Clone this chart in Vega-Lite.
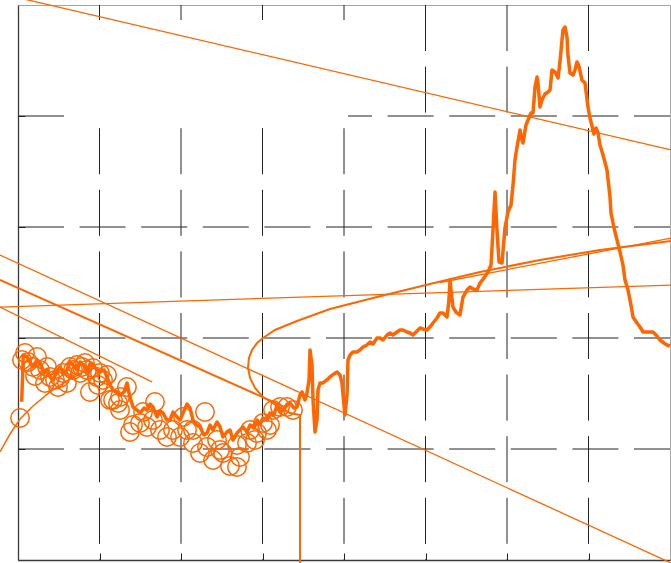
{
  "$schema": "https://vega.github.io/schema/vega-lite/v6.json",
  "width": 652,
  "height": 555,
  "autosize": {"type": "none"},
  "padding": {"left": 18, "top": 5, "right": 1, "bottom": 3},
  "background": "white",
  "config": {
    "view": {"stroke": "#a6a6a6", "strokeWidth": 1},
    "axis": {
      "labels": false,
      "title": null,
      "grid": false,
      "domainColor": "#3a3a3a",
      "domainWidth": 1.3,
      "tickColor": "#222222",
      "tickSize": -7
    }
  },
  "encoding": {
    "x": {"field": "x", "type": "quantitative", "scale": {"domain": [0, 8], "nice": false, "zero": false}, "axis": {"values": [1, 2, 3, 4, 5, 6, 7]}},
    "y": {"field": "y", "type": "quantitative", "scale": {"domain": [0, 5], "nice": false, "zero": false}, "axis": {"values": [1, 2, 3, 4]}}
  },
  "layer": [
    {
      "data": {"values": [
        {"x": 1, "y": 5, "ye": 0}, {"x": 2, "y": 5, "ye": 0}, {"x": 3, "y": 5, "ye": 0}, {"x": 4, "y": 5, "ye": 0},
        {"x": 5, "y": 5, "ye": 0}, {"x": 6, "y": 5, "ye": 0}, {"x": 7, "y": 5, "ye": 0}
      ]},
      "mark": {"type": "rule", "color": "#222222", "strokeWidth": 1, "strokeDash": [46, 15.6]},
      "encoding": {"y2": {"field": "ye"}}
    },
    {
      "data": {"values": [
        {"x": 0, "xe": 8, "y": 1}, {"x": 0, "xe": 8, "y": 2}, {"x": 0, "xe": 8, "y": 3}, {"x": 0, "xe": 8, "y": 4}
      ]},
      "mark": {"type": "rule", "color": "#222222", "strokeWidth": 1, "strokeDash": [46, 15.6]},
      "encoding": {"x2": {"field": "xe"}}
    },
    {
      "data": {"values": [{"x": 0.589, "xe": 4.049, "y": 4.865, "ye": 3.928}]},
      "mark": {"type": "rect", "color": "white", "opacity": 1},
      "encoding": {"x2": {"field": "xe"}, "y2": {"field": "ye"}}
    },
    {
      "data": {"values": [
        {"x": -0.221, "y": 5.104, "xe": 8.012, "ye": 3.694},
        {"x": -0.221, "y": 2.748, "xe": 8.012, "ye": -0.027},
        {"x": -0.221, "y": 2.279, "xe": 1.644, "ye": 1.604},
        {"x": -0.221, "y": 2.279, "xe": 8.012, "ye": 2.477},
        {"x": 5.178, "y": 2.5, "xe": 8.012, "ye": 2.9}
      ]},
      "mark": {"type": "rule", "color": "#ff6600", "strokeWidth": 1.3, "clip": false},
      "encoding": {"x2": {"field": "xe"}, "y2": {"field": "ye"}}
    },
    {
      "data": {"values": [
        {"x": -0.221, "y": 2.523, "xe": 3.276, "ye": 1.378}
      ]},
      "mark": {"type": "rule", "color": "#ff6600", "strokeWidth": 2, "clip": false},
      "encoding": {"x2": {"field": "xe"}, "y2": {"field": "ye"}}
    },
    {
      "data": {"values": [
        {"x": -0.221, "y": 0.973},
        {"x": -0.098, "y": 1.135},
        {"x": 0.025, "y": 1.27},
        {"x": 0.184, "y": 1.387},
        {"x": 0.393, "y": 1.514},
        {"x": 0.577, "y": 1.604},
        {"x": 0.761, "y": 1.676}
      ]},
      "mark": {"type": "line", "color": "#ff6600", "strokeWidth": 1.5, "clip": false}
    },
    {
      "data": {"values": [
        {"i": 0, "x": 3.46, "y": -0.03},
        {"i": 1, "x": 3.46, "y": 1.306},
        {"i": 2, "x": 3.337, "y": 1.324},
        {"i": 3, "x": 3.227, "y": 1.369},
        {"i": 4, "x": 3.129, "y": 1.414},
        {"i": 5, "x": 3.006, "y": 1.468},
        {"i": 6, "x": 2.908, "y": 1.55},
        {"i": 7, "x": 2.847, "y": 1.64},
        {"i": 8, "x": 2.822, "y": 1.73},
        {"i": 9, "x": 2.834, "y": 1.82},
        {"i": 10, "x": 2.871, "y": 1.892},
        {"i": 11, "x": 2.933, "y": 1.955},
        {"i": 12, "x": 3.006, "y": 2.0},
        {"i": 13, "x": 3.153, "y": 2.072},
        {"i": 14, "x": 3.423, "y": 2.153},
        {"i": 15, "x": 3.828, "y": 2.261},
        {"i": 16, "x": 4.405, "y": 2.369},
        {"i": 17, "x": 5.055, "y": 2.486},
        {"i": 18, "x": 5.669, "y": 2.595},
        {"i": 19, "x": 6.405, "y": 2.703},
        {"i": 20, "x": 7.141, "y": 2.793},
        {"i": 21, "x": 8.012, "y": 2.874}
      ]},
      "mark": {"type": "line", "color": "#ff6600", "strokeWidth": 2, "clip": false},
      "encoding": {"order": {"field": "i"}}
    },
    {
      "data": {"values": [
        {"x": 0.025, "y": 1.279}, {"x": 0.086, "y": 1.865}, {"x": 0.123, "y": 1.784}, {"x": 0.049, "y": 1.802},
        {"x": 0.184, "y": 1.739}, {"x": 0.233, "y": 1.829}, {"x": 0.27, "y": 1.712}, {"x": 0.209, "y": 1.658},
        {"x": 0.356, "y": 1.739}, {"x": 0.393, "y": 1.649}, {"x": 0.454, "y": 1.622}, {"x": 0.491, "y": 1.559},
        {"x": 0.552, "y": 1.685}, {"x": 0.601, "y": 1.595}, {"x": 0.638, "y": 1.739}, {"x": 0.675, "y": 1.712},
        {"x": 0.724, "y": 1.757}, {"x": 0.761, "y": 1.685}, {"x": 0.785, "y": 1.739}, {"x": 0.822, "y": 1.775},
        {"x": 0.847, "y": 1.712}, {"x": 0.883, "y": 1.514}, {"x": 0.92, "y": 1.73}, {"x": 0.969, "y": 1.649},
        {"x": 1.006, "y": 1.685}, {"x": 1.043, "y": 1.622}, {"x": 1.092, "y": 1.667}, {"x": 1.129, "y": 1.441},
        {"x": 1.166, "y": 1.441}, {"x": 1.227, "y": 1.414}, {"x": 1.252, "y": 1.468}, {"x": 1.337, "y": 1.559},
        {"x": 1.681, "y": 1.423}, {"x": 1.374, "y": 1.153}, {"x": 1.411, "y": 1.216}, {"x": 1.497, "y": 1.234},
        {"x": 1.583, "y": 1.198}, {"x": 1.656, "y": 1.261}, {"x": 1.742, "y": 1.171}, {"x": 1.828, "y": 1.108},
        {"x": 1.902, "y": 1.171}, {"x": 1.988, "y": 1.108}, {"x": 2.025, "y": 1.288}, {"x": 2.074, "y": 1.171},
        {"x": 2.147, "y": 1.054}, {"x": 2.233, "y": 0.964}, {"x": 2.294, "y": 1.333}, {"x": 2.319, "y": 1.018},
        {"x": 2.393, "y": 0.901}, {"x": 2.479, "y": 0.991}, {"x": 2.515, "y": 0.964}, {"x": 2.601, "y": 0.847},
        {"x": 2.687, "y": 0.838}, {"x": 2.724, "y": 0.928}, {"x": 2.81, "y": 1.054}, {"x": 2.847, "y": 1.171},
        {"x": 2.933, "y": 1.144}, {"x": 3.006, "y": 1.234}, {"x": 3.055, "y": 1.171}, {"x": 3.129, "y": 1.351},
        {"x": 3.215, "y": 1.378}, {"x": 3.301, "y": 1.378}, {"x": 3.374, "y": 1.351}, {"x": 1.534, "y": 1.333},
        {"x": 1.252, "y": 1.351}, {"x": 0.982, "y": 1.577}, {"x": 2.687, "y": 1.036}, {"x": 2.442, "y": 1.081},
        {"x": 2.147, "y": 1.171}, {"x": 3.092, "y": 1.216}, {"x": 0.331, "y": 1.595}, {"x": 0.515, "y": 1.64},
        {"x": 2.908, "y": 1.081}
      ]},
      "mark": {"type": "point", "shape": "circle", "filled": false, "color": "#ff6600", "strokeWidth": 1.5, "size": 340, "opacity": 1}
    },
    {
      "data": {"values": [
        {"x": 0.045, "y": 1.426}, {"x": 0.065, "y": 1.847}, {"x": 0.107, "y": 1.832}, {"x": 0.147, "y": 1.784},
        {"x": 0.184, "y": 1.739}, {"x": 0.233, "y": 1.802}, {"x": 0.27, "y": 1.775}, {"x": 0.319, "y": 1.694},
        {"x": 0.356, "y": 1.712}, {"x": 0.393, "y": 1.649}, {"x": 0.429, "y": 1.622}, {"x": 0.479, "y": 1.694},
        {"x": 0.515, "y": 1.739}, {"x": 0.564, "y": 1.676}, {"x": 0.601, "y": 1.712}, {"x": 0.638, "y": 1.784},
        {"x": 0.675, "y": 1.757}, {"x": 0.724, "y": 1.712}, {"x": 0.761, "y": 1.784}, {"x": 0.81, "y": 1.748},
        {"x": 0.847, "y": 1.694}, {"x": 0.883, "y": 1.766}, {"x": 0.92, "y": 1.757}, {"x": 0.969, "y": 1.712},
        {"x": 1.006, "y": 1.694}, {"x": 1.055, "y": 1.712}, {"x": 1.092, "y": 1.649}, {"x": 1.129, "y": 1.577},
        {"x": 1.166, "y": 1.532}, {"x": 1.215, "y": 1.514}, {"x": 1.252, "y": 1.486}, {"x": 1.301, "y": 1.514},
        {"x": 1.337, "y": 1.595}, {"x": 1.374, "y": 1.468}, {"x": 1.411, "y": 1.378}, {"x": 1.46, "y": 1.351},
        {"x": 1.497, "y": 1.324}, {"x": 1.546, "y": 1.369}, {"x": 1.583, "y": 1.351}, {"x": 1.62, "y": 1.405},
        {"x": 1.656, "y": 1.378}, {"x": 1.706, "y": 1.288}, {"x": 1.742, "y": 1.342}, {"x": 1.779, "y": 1.324},
        {"x": 1.828, "y": 1.261}, {"x": 1.865, "y": 1.261}, {"x": 1.902, "y": 1.333}, {"x": 1.951, "y": 1.288},
        {"x": 1.988, "y": 1.261}, {"x": 2.025, "y": 1.324}, {"x": 2.074, "y": 1.405}, {"x": 2.11, "y": 1.369},
        {"x": 2.147, "y": 1.261}, {"x": 2.196, "y": 1.216}, {"x": 2.233, "y": 1.198}, {"x": 2.282, "y": 1.126},
        {"x": 2.319, "y": 1.144}, {"x": 2.356, "y": 1.216}, {"x": 2.393, "y": 1.171}, {"x": 2.442, "y": 1.243},
        {"x": 2.479, "y": 1.198}, {"x": 2.515, "y": 1.108}, {"x": 2.564, "y": 1.153}, {"x": 2.601, "y": 1.171},
        {"x": 2.638, "y": 1.081}, {"x": 2.687, "y": 1.144}, {"x": 2.724, "y": 1.171}, {"x": 2.761, "y": 1.198},
        {"x": 2.81, "y": 1.153}, {"x": 2.847, "y": 1.216}, {"x": 2.896, "y": 1.189}, {"x": 2.933, "y": 1.261},
        {"x": 2.969, "y": 1.225}, {"x": 3.006, "y": 1.279}, {"x": 3.055, "y": 1.261}, {"x": 3.092, "y": 1.324},
        {"x": 3.141, "y": 1.306}, {"x": 3.178, "y": 1.396}, {"x": 3.215, "y": 1.333}, {"x": 3.252, "y": 1.351},
        {"x": 3.301, "y": 1.396}, {"x": 3.337, "y": 1.414}, {"x": 3.387, "y": 1.369}, {"x": 3.423, "y": 1.378},
        {"x": 3.46, "y": 1.486}, {"x": 3.485, "y": 1.514}, {"x": 3.521, "y": 1.441}, {"x": 3.546, "y": 1.504},
        {"x": 3.571, "y": 1.622}, {"x": 3.583, "y": 1.892}, {"x": 3.607, "y": 1.757}, {"x": 3.62, "y": 1.441},
        {"x": 3.644, "y": 1.153}, {"x": 3.669, "y": 1.261}, {"x": 3.681, "y": 1.532}, {"x": 3.706, "y": 1.595},
        {"x": 3.742, "y": 1.595}, {"x": 3.791, "y": 1.622}, {"x": 3.828, "y": 1.649}, {"x": 3.877, "y": 1.676},
        {"x": 3.914, "y": 1.694}, {"x": 3.951, "y": 1.667}, {"x": 3.975, "y": 1.595}, {"x": 4.0, "y": 1.396},
        {"x": 4.012, "y": 1.306}, {"x": 4.037, "y": 1.486}, {"x": 4.049, "y": 1.802}, {"x": 4.074, "y": 1.847},
        {"x": 4.11, "y": 1.874}, {"x": 4.16, "y": 1.874}, {"x": 4.196, "y": 1.892}, {"x": 4.233, "y": 1.919},
        {"x": 4.282, "y": 1.937}, {"x": 4.319, "y": 1.964}, {"x": 4.356, "y": 1.946}, {"x": 4.405, "y": 2.0},
        {"x": 4.442, "y": 2.0}, {"x": 4.479, "y": 1.982}, {"x": 4.528, "y": 2.027}, {"x": 4.564, "y": 2.045},
        {"x": 4.601, "y": 2.027}, {"x": 4.65, "y": 2.054}, {"x": 4.687, "y": 2.072}, {"x": 4.724, "y": 2.072},
        {"x": 4.773, "y": 2.054}, {"x": 4.81, "y": 2.045}, {"x": 4.847, "y": 2.027}, {"x": 4.896, "y": 2.063},
        {"x": 4.933, "y": 2.09}, {"x": 4.969, "y": 2.081}, {"x": 5.018, "y": 2.072}, {"x": 5.055, "y": 2.099},
        {"x": 5.092, "y": 2.135}, {"x": 5.141, "y": 2.18}, {"x": 5.178, "y": 2.225}, {"x": 5.215, "y": 2.225},
        {"x": 5.264, "y": 2.189}, {"x": 5.288, "y": 2.342}, {"x": 5.301, "y": 2.523}, {"x": 5.313, "y": 2.432},
        {"x": 5.337, "y": 2.279}, {"x": 5.374, "y": 2.234}, {"x": 5.423, "y": 2.207}, {"x": 5.46, "y": 2.369},
        {"x": 5.509, "y": 2.432}, {"x": 5.546, "y": 2.459}, {"x": 5.583, "y": 2.441}, {"x": 5.632, "y": 2.432},
        {"x": 5.669, "y": 2.495}, {"x": 5.718, "y": 2.541}, {"x": 5.767, "y": 2.595}, {"x": 5.804, "y": 2.658},
        {"x": 5.828, "y": 2.973}, {"x": 5.853, "y": 3.315}, {"x": 5.877, "y": 2.973}, {"x": 5.902, "y": 2.685},
        {"x": 5.939, "y": 2.676}, {"x": 5.975, "y": 2.991}, {"x": 6.012, "y": 3.135}, {"x": 6.049, "y": 3.198},
        {"x": 6.074, "y": 3.378}, {"x": 6.098, "y": 3.604}, {"x": 6.123, "y": 3.721}, {"x": 6.16, "y": 3.874},
        {"x": 6.184, "y": 3.784}, {"x": 6.196, "y": 3.757}, {"x": 6.233, "y": 3.919}, {"x": 6.258, "y": 3.964},
        {"x": 6.294, "y": 4.027}, {"x": 6.319, "y": 4.027}, {"x": 6.344, "y": 4.261}, {"x": 6.368, "y": 4.351},
        {"x": 6.38, "y": 4.297}, {"x": 6.405, "y": 4.081}, {"x": 6.429, "y": 4.144}, {"x": 6.466, "y": 4.198},
        {"x": 6.503, "y": 4.216}, {"x": 6.528, "y": 4.234}, {"x": 6.552, "y": 4.414}, {"x": 6.589, "y": 4.396},
        {"x": 6.626, "y": 4.342}, {"x": 6.65, "y": 4.486}, {"x": 6.675, "y": 4.685}, {"x": 6.687, "y": 4.775},
        {"x": 6.712, "y": 4.802}, {"x": 6.736, "y": 4.712}, {"x": 6.748, "y": 4.55}, {"x": 6.773, "y": 4.387},
        {"x": 6.81, "y": 4.369}, {"x": 6.834, "y": 4.414}, {"x": 6.859, "y": 4.486}, {"x": 6.883, "y": 4.45},
        {"x": 6.92, "y": 4.324}, {"x": 6.957, "y": 4.297}, {"x": 6.994, "y": 4.081}, {"x": 7.018, "y": 3.982},
        {"x": 7.043, "y": 3.91}, {"x": 7.067, "y": 3.838}, {"x": 7.092, "y": 3.892}, {"x": 7.117, "y": 3.847},
        {"x": 7.141, "y": 3.739}, {"x": 7.178, "y": 3.649}, {"x": 7.227, "y": 3.514}, {"x": 7.264, "y": 3.27},
        {"x": 7.276, "y": 3.126}, {"x": 7.313, "y": 2.991}, {"x": 7.35, "y": 2.883}, {"x": 7.387, "y": 2.775},
        {"x": 7.423, "y": 2.658}, {"x": 7.448, "y": 2.523}, {"x": 7.485, "y": 2.432}, {"x": 7.521, "y": 2.297},
        {"x": 7.546, "y": 2.189}, {"x": 7.595, "y": 2.135}, {"x": 7.632, "y": 2.099}, {"x": 7.669, "y": 2.054},
        {"x": 7.791, "y": 2.054}, {"x": 7.84, "y": 2.018}, {"x": 7.877, "y": 1.982}, {"x": 7.926, "y": 1.955},
        {"x": 7.963, "y": 1.937}, {"x": 8.0, "y": 1.928}
      ]},
      "mark": {"type": "line", "color": "#ff6600", "strokeWidth": 3.5, "strokeJoin": "round", "clip": false}
    }
  ]
}
